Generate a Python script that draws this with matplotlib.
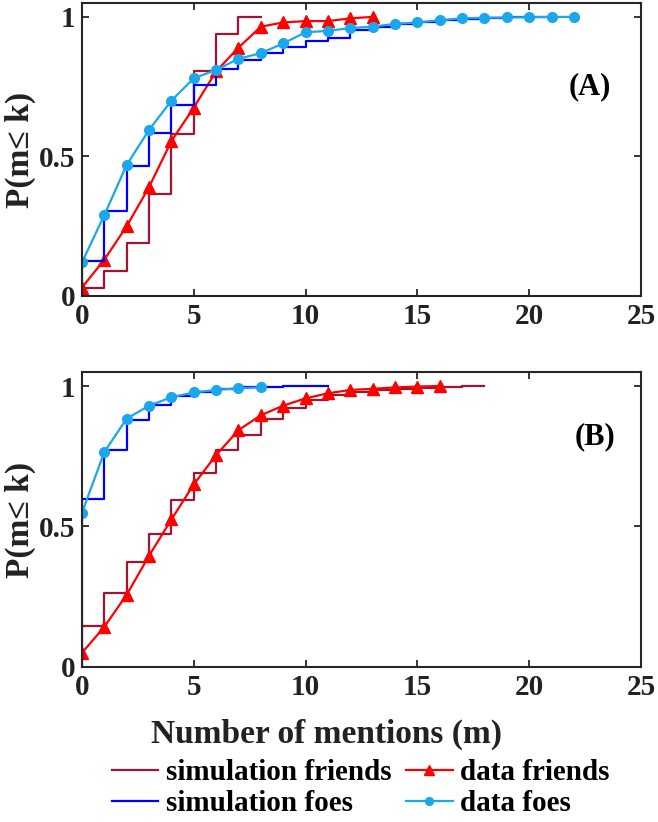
import numpy as np
import matplotlib
matplotlib.use('Agg')
import matplotlib.pyplot as plt

# ---- data ----
# panel A
a_sim_friends_k = [0, 1, 2, 3, 4, 5, 6, 7, 8]
a_sim_friends = [0.03, 0.09, 0.19, 0.365, 0.58, 0.805, 0.94, 1.0, 1.0]
a_data_friends_k = list(range(14))
a_data_friends = [0.03, 0.13, 0.25, 0.39, 0.555, 0.675, 0.805, 0.89, 0.965,
                  0.98, 0.985, 0.985, 0.995, 1.0]
a_sim_foes_k = [0] + list(range(22))
a_sim_foes = [0.0, 0.125, 0.305, 0.466, 0.585, 0.683, 0.755, 0.812, 0.845,
              0.872, 0.892, 0.912, 0.926, 0.952, 0.965, 0.975, 0.982, 0.988,
              0.993, 0.996, 0.998, 1.0, 1.0]
a_data_foes_k = list(range(23))
a_data_foes = [0.12, 0.29, 0.47, 0.595, 0.70, 0.78, 0.81, 0.85, 0.87, 0.905,
               0.945, 0.95, 0.96, 0.965, 0.975, 0.98, 0.988, 0.995, 0.997,
               0.998, 0.999, 1.0, 1.0]

# panel B
b_sim_friends_k = list(range(19))
b_sim_friends = [0.146, 0.265, 0.373, 0.474, 0.593, 0.69, 0.774, 0.827, 0.882,
                 0.92, 0.95, 0.968, 0.978, 0.985, 0.99, 0.994, 0.997, 0.999, 1.0]
b_data_friends_k = list(range(17))
b_data_friends = [0.05, 0.143, 0.257, 0.396, 0.525, 0.65, 0.754, 0.843, 0.896,
                  0.93, 0.956, 0.974, 0.986, 0.99, 0.995, 0.998, 1.0]
b_sim_foes_k = [0] + list(range(12))
b_sim_foes = [0.0, 0.599, 0.771, 0.879, 0.932, 0.965, 0.98, 0.99, 0.995,
              0.998, 1.0, 1.0, 1.0]
b_data_foes_k = list(range(9))
b_data_foes = [0.549, 0.765, 0.884, 0.93, 0.96, 0.977, 0.986, 0.992, 0.995]

x_ticks = [0, 5, 10, 15, 20, 25]
y_ticks = [0, 0.5, 1]
y_tick_labels = ['0', '0.5', '1']

c_sim_friends = '#A2142F'
c_data_friends = '#FF0000'
c_sim_foes = '#0000FF'
c_data_foes = '#1AA7EC'
axis_col = '#262626'

plt.rcParams['font.family'] = ['Liberation Serif', 'DejaVu Serif']
plt.rcParams['font.weight'] = 'bold'

fig = plt.figure(figsize=(6.58, 8.22), dpi=100)
ax_a = fig.add_axes([0.1246, 0.640, 0.8495, 0.3564])
ax_b = fig.add_axes([0.1246, 0.1886, 0.8495, 0.3589])

panels = [
    (ax_a, a_sim_friends_k, a_sim_friends, a_data_friends_k, a_data_friends,
     a_sim_foes_k, a_sim_foes, a_data_foes_k, a_data_foes, '(A)', 22.7, 0.75),
    (ax_b, b_sim_friends_k, b_sim_friends, b_data_friends_k, b_data_friends,
     b_sim_foes_k, b_sim_foes, b_data_foes_k, b_data_foes, '(B)', 22.95, 0.82),
]

handles = None
for (ax, sfk, sf, dfk, df, sok, so, dok, do, lab, lx, ly) in panels:
    h1, = ax.step(sfk, sf, where='post', color=c_sim_friends, lw=1.6,
                  label='simulation friends')
    h2, = ax.plot(dfk, df, color=c_data_friends, lw=1.6, marker='^', ms=9,
                  label='data friends')
    h3, = ax.step(sok, so, where='post', color=c_sim_foes, lw=1.6,
                  label='simulation foes')
    h4, = ax.plot(dok, do, color=c_data_foes, lw=1.6, marker='o', ms=7,
                  label='data foes')
    handles = [h1, h3, h2, h4]

    ax.set_xlim(0, 25)
    ax.set_ylim(0, 1.05)
    ax.set_xticks(x_ticks)
    ax.set_yticks(y_ticks)
    ax.set_yticklabels(y_tick_labels)
    ax.tick_params(direction='in', length=5, width=1.3, top=True, right=True,
                   labelsize=21, colors=axis_col, pad=5)
    for lbl in ax.get_xticklabels() + ax.get_yticklabels():
        lbl.set_fontweight('bold')
        lbl.set_color('#222222')
    for sp in ax.spines.values():
        sp.set_linewidth(1.5)
        sp.set_color(axis_col)
    ax.set_ylabel('P(m≤ k)', fontsize=24, fontweight='bold', color='#222222')
    ax.yaxis.set_label_coords(-0.082, 0.5)
    ax.text(lx, ly, lab, fontsize=22, fontweight='bold', ha='center',
            va='center')

ax_b.set_xlabel('Number of mentions (m)', fontsize=24, fontweight='bold',
                color='#222222')
ax_b.xaxis.set_label_coords(0.438, -0.175)

fig.legend(handles=handles, labels=[h.get_label() for h in handles],
           ncol=2, loc='center', bbox_to_anchor=(0.548, 0.041), frameon=False,
           prop={'size': 21, 'weight': 'bold'}, handlelength=1.6,
           columnspacing=0.5, handletextpad=0.25, labelspacing=0.15,
           markerscale=0.8, borderpad=0.2)

fig.savefig('out.png', dpi=100)
